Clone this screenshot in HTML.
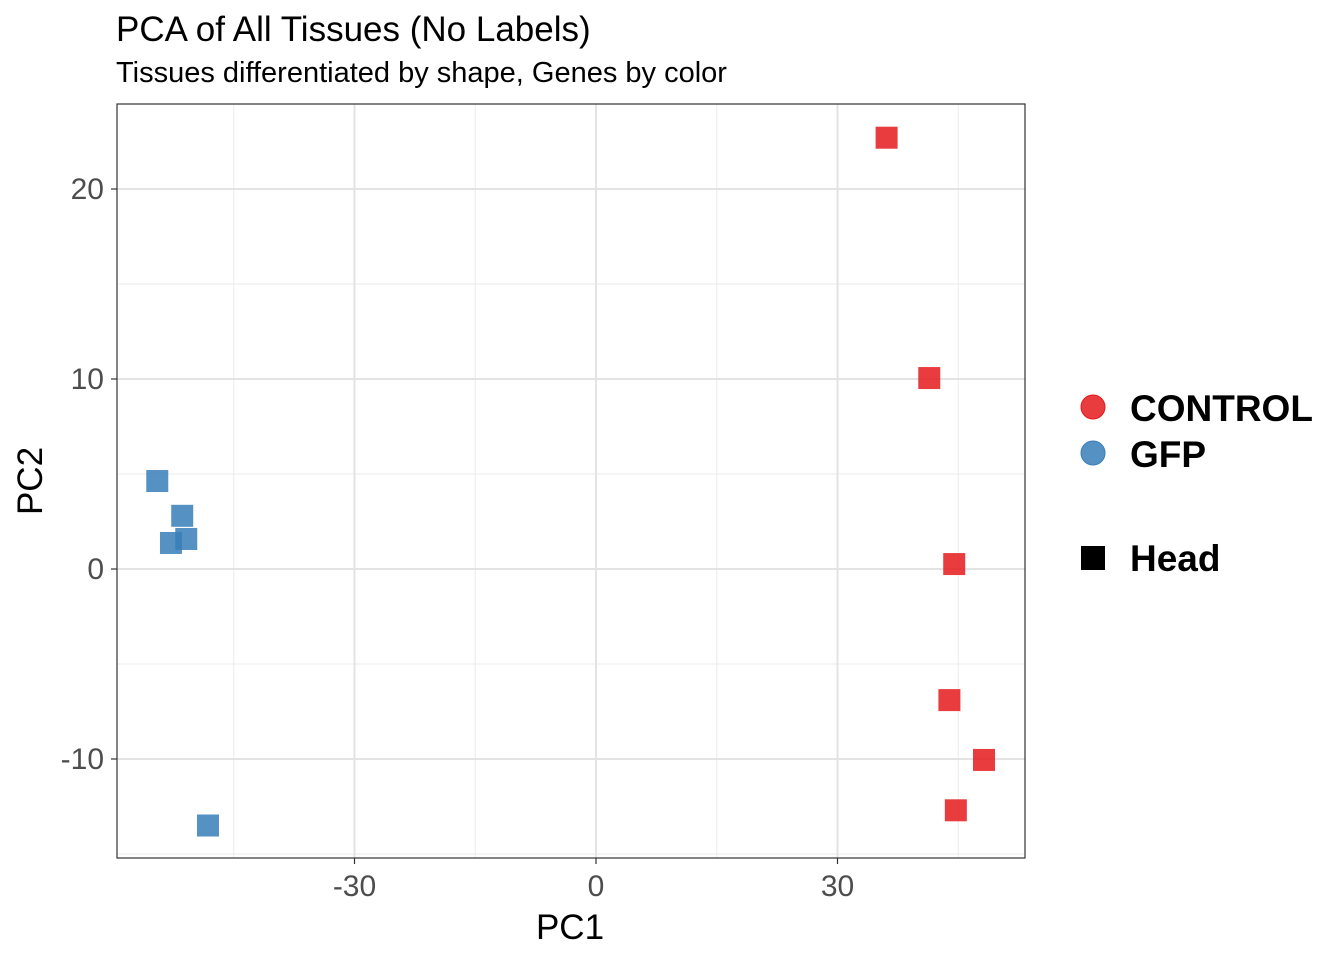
<!DOCTYPE html>
<html><head><meta charset="utf-8"><style>
body{margin:0;background:#fff;font-family:"Liberation Sans",Arial,sans-serif}
svg text{font-family:"Liberation Sans",Arial,sans-serif}
</style></head><body>
<svg id="chart" width="1344" height="960" xmlns="http://www.w3.org/2000/svg">
<text x="116" y="41" font-size="35" fill="#000">PCA of All Tissues (No Labels)</text>
<text x="116" y="82" font-size="29" fill="#000">Tissues differentiated by shape, Genes by color</text>
<g id="grid"></g>
<g id="pts"></g>
<rect x="117" y="104" width="908" height="754" fill="none" stroke="#333" stroke-width="1.2"/>
<g id="axes"></g>
<text x="570" y="939" text-anchor="middle" font-size="35">PC1</text>
<text transform="translate(42,481) rotate(-90)" text-anchor="middle" font-size="35">PC2</text>
<g>
<circle cx="1093" cy="407" r="12" fill="#E41A1C" fill-opacity="0.85" stroke="#E41A1C"/>
<text x="1130" y="421" font-size="37" font-weight="bold">CONTROL</text>
<circle cx="1093" cy="453" r="12" fill="#377EB8" fill-opacity="0.85" stroke="#377EB8"/>
<text x="1130" y="467" font-size="37" font-weight="bold">GFP</text>
<rect x="1081" y="546" width="24" height="24" fill="#000"/>
<text x="1130" y="571" font-size="37" font-weight="bold">Head</text>
</g>
</svg>
<script>
const groups=["CONTROL","CONTROL","CONTROL","CONTROL","CONTROL","CONTROL","GFP","GFP","GFP","GFP","GFP"];
const pc1=[36.1,41.4,44.5,43.9,48.2,44.7,-54.5,-51.4,-50.9,-52.8,-48.2];
const pc2=[22.7,10.05,0.26,-6.9,-10.05,-12.7,4.63,2.8,1.58,1.37,-13.5];
const xTicks=[-30,0,30];
const yTicks=[-10,0,10,20];
const xMinor=[-45,-15,15,45];
const yMinor=[-15,-5,5,15];
const colors={CONTROL:"#E41A1C",GFP:"#377EB8"};
const X=v=>596+v*8.05, Y=v=>569-v*19;
const ns="http://www.w3.org/2000/svg";
function mk(t,a,p){const e=document.createElementNS(ns,t);for(const k in a)e.setAttribute(k,a[k]);p.appendChild(e);return e;}
const g=document.getElementById('grid'),ax=document.getElementById('axes'),pts=document.getElementById('pts');
xMinor.forEach(v=>{const l=mk('line',{x1:X(v),x2:X(v),y1:104,y2:858,stroke:'#ebebeb','stroke-width':1},g);

});
yMinor.forEach(v=>{const l=mk('line',{x1:117,x2:1025,y1:Y(v),y2:Y(v),stroke:'#ebebeb','stroke-width':1},g);

});
xTicks.forEach(v=>{const l=mk('line',{x1:X(v),x2:X(v),y1:104,y2:858,stroke:'#e3e3e3','stroke-width':2},g);


mk('line',{x1:X(v),x2:X(v),y1:858,y2:864,stroke:'#333','stroke-width':1.2},ax);
const t=mk('text',{x:X(v),y:896,'text-anchor':'middle','font-size':30,fill:'#4d4d4d'},ax);t.textContent=v;

});
yTicks.forEach(v=>{const l=mk('line',{x1:117,x2:1025,y1:Y(v),y2:Y(v),stroke:'#e3e3e3','stroke-width':2},g);


mk('line',{x1:111,x2:117,y1:Y(v),y2:Y(v),stroke:'#333','stroke-width':1.2},ax);
const t=mk('text',{x:104,y:Y(v)+10,'text-anchor':'end','font-size':30,fill:'#4d4d4d'},ax);t.textContent=v;

});
pc1.forEach((v,i)=>{const r=mk('rect',{x:X(v)-11,y:Y(pc2[i])-11,width:22,height:22,fill:colors[groups[i]],'fill-opacity':0.85},pts);

});
</script>
</body></html>
